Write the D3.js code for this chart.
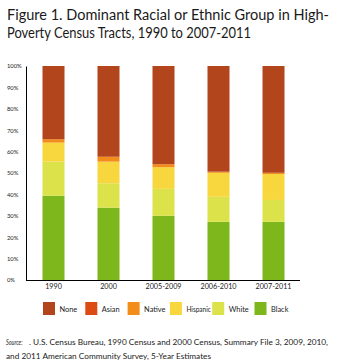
<!DOCTYPE html>
<html>
<head>
<meta charset="utf-8">
<script src="https://cdn.jsdelivr.net/npm/d3@7/dist/d3.min.js"></script>
<style>
  html, body { margin: 0; padding: 0; background: #fff; }
  svg { display: block; }
</style>
</head>
<body>
<svg id="chart" width="338" height="362"></svg>
<script>
// Share of high-poverty census tracts by dominant racial/ethnic group (%)
const periods  = ["1990", "2000", "2005-2009", "2006-2010", "2007-2011"];
const black    = [39.4, 33.8, 30.0, 27.2, 27.2];
const white    = [15.9, 11.4, 12.6, 11.7, 10.2];
const hispanic = [ 8.9, 10.1, 10.1, 11.2, 12.1];
const native   = [ 1.6,  2.3,  1.4,  0.5,  0.6];
const asian    = [ 0.0,  0.0,  0.0,  0.0,  0.0];
const none     = [34.2, 42.4, 45.9, 49.4, 49.9];
const yTicks   = [0, 10, 20, 30, 40, 50, 60, 70, 80, 90, 100];

const groups = ["Black", "White", "Hispanic", "Native", "Asian", "None"];
const seriesValues = { Black: black, White: white, Hispanic: hispanic, Native: native, Asian: asian, None: none };
const colors = { None: "#b3451d", Asian: "#dd4b14", Native: "#f28c1a", Hispanic: "#f8d63e", White: "#dbe24a", Black: "#7db71b" };
const legendOrder = ["None", "Asian", "Native", "Hispanic", "White", "Black"];

const rows = periods.map((p, i) => {
  const r = { period: p };
  groups.forEach(g => { r[g] = seriesValues[g][i]; });
  return r;
});

const svg = d3.select("#chart");
const font = "Lato, 'Open Sans', sans-serif";

// Text line stretched or squeezed to an exact width
function line(xPos, yPos, size, width, str) {
  return svg.append("text").attr("x", xPos).attr("y", yPos)
    .attr("font-family", font).attr("font-size", size).attr("fill", "#1a1a1a")
    .attr("textLength", width).attr("lengthAdjust", "spacingAndGlyphs")
    .text(str);
}

// Title
line(7, 20, 14.5, 322, "Figure 1. Dominant Racial or Ethnic Group in High-");
line(7, 38, 14.5, 244, "Poverty Census Tracts, 1990 to 2007-2011");

// Scales
const x = d3.scaleBand().domain(periods).range([26, 301]).paddingInner(0.6).paddingOuter(0.3);
const y = d3.scaleLinear().domain([0, 100]).range([280, 66]);

// Stacked bars
const stack = d3.stack().keys(groups)(rows);
svg.append("g").selectAll("g").data(stack).join("g")
  .attr("fill", d => colors[d.key])
  .selectAll("rect").data(d => d).join("rect")
  .attr("x", d => x(d.data.period))
  .attr("width", x.bandwidth())
  .attr("y", d => y(d[1]))
  .attr("height", d => y(d[0]) - y(d[1]));

// Y axis: plain line, labels left-aligned at the margin
const yAxis = svg.append("g").attr("transform", "translate(26,0)")
  .call(d3.axisLeft(y).tickValues(yTicks).tickSize(0).tickFormat(d => d + "%"));
yAxis.select(".domain").attr("stroke", "#000").attr("stroke-width", 1);
yAxis.selectAll("text").attr("text-anchor", "start").attr("x", -19)
  .attr("font-family", font).attr("font-size", 5.8).attr("fill", "#222");

// X axis
const xAxis = svg.append("g").attr("transform", "translate(0,280.5)")
  .call(d3.axisBottom(x).tickSize(0).tickPadding(3.5));
xAxis.select(".domain").attr("stroke", "#000").attr("stroke-width", 1)
  .attr("d", "M26,0H300");
xAxis.selectAll("text").attr("font-family", font).attr("font-size", 7.2).attr("fill", "#222");

// Legend
const legend = svg.append("g").selectAll("g").data(legendOrder).join("g")
  .attr("transform", (d, i) => `translate(${43 + i * 42.3},302)`);
legend.append("rect").attr("width", 12).attr("height", 13).attr("fill", d => colors[d]);
legend.append("text").attr("x", 16.5).attr("y", 9.5)
  .attr("font-family", font).attr("font-size", 7.4).attr("fill", "#222").text(d => d)
  .each(function () {
    if (this.getComputedTextLength() > 24.5) {
      d3.select(this).attr("textLength", 24.5).attr("lengthAdjust", "spacingAndGlyphs");
    }
  });

// Source note
svg.append("text").attr("x", 6).attr("y", 345)
  .attr("font-family", font).attr("font-size", 8.2).attr("font-style", "italic")
  .attr("fill", "#1a1a1a").attr("textLength", 16.5).attr("lengthAdjust", "spacingAndGlyphs")
  .text("Source:");
line(29, 345, 8.2, 299, ". U.S. Census Bureau, 1990 Census and 2000 Census, Summary File 3, 2009, 2010,");
line(6, 358.5, 8.2, 205, "and 2011 American Community Survey, 5-Year Estimates");
</script>
</body>
</html>
